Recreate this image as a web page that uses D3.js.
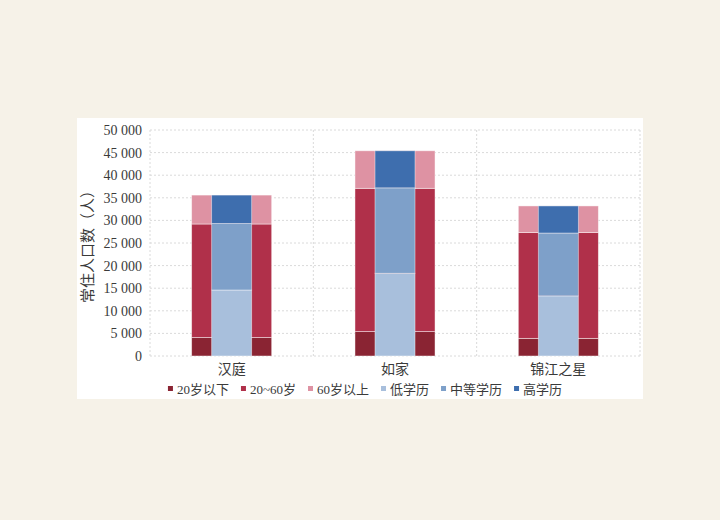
<!DOCTYPE html>
<html><head><meta charset="utf-8">
<script src="https://cdn.jsdelivr.net/npm/d3@7"></script>
<style>body{margin:0;background:#f6f2e8;}svg{display:block;}</style>
</head><body>
<svg id="c" width="720" height="520"></svg>
<script>
const categories = ["汉庭", "如家", "锦江之星"];
const ageSeries = ["20岁以下", "20~60岁", "60岁以上"];
const eduSeries = ["低学历", "中等学历", "高学历"];
const under20 = [4100, 5400, 3900];
const age20to60 = [25100, 31700, 23400];
const over60 = [6400, 8300, 5900];
const lowEdu = [14600, 18300, 13300];
const midEdu = [14700, 18900, 13900];
const highEdu = [6300, 8200, 6000];
const yTicks = [0, 5000, 10000, 15000, 20000, 25000, 30000, 35000, 40000, 45000, 50000];
const ageColors = ["#8a2433", "#b0304a", "#de92a3"];
const eduColors = ["#a8bfdc", "#7ea0c9", "#3e6eae"];

const svg = d3.select("#c");
svg.append("rect").attr("width", 720).attr("height", 520).attr("fill", "#f6f2e8");
svg.append("rect").attr("x", 77).attr("y", 118).attr("width", 566).attr("height", 281).attr("fill", "#ffffff");

const x = d3.scaleBand().domain(categories).range([150, 640]).padding(0);
const y = d3.scaleLinear().domain([0, 50000]).range([356, 130]);
const serif = "'Liberation Serif','Noto Sans CJK SC',serif";
const textColor = "#3a3a3a";

// gridlines
const g = svg.append("g");
g.selectAll("line.h").data(yTicks).enter().append("line")
  .attr("x1", 150).attr("x2", 640)
  .attr("y1", d => y(d)).attr("y2", d => y(d))
  .attr("stroke", "#dadada").attr("stroke-width", 1).attr("stroke-dasharray", "2,2");
const vlines = categories.map(c => x(c)).concat([x.range()[1]]);
g.selectAll("line.v").data(vlines).enter().append("line")
  .attr("x1", d => d).attr("x2", d => d)
  .attr("y1", y(50000)).attr("y2", y(0))
  .attr("stroke", "#dadada").attr("stroke-width", 1).attr("stroke-dasharray", "2,2");

// y axis
const yAxis = d3.axisLeft(y).tickValues(yTicks).tickSize(0).tickPadding(8)
  .tickFormat(d => d3.format(",")(d).replace(/,/g, " "));
const ya = svg.append("g").attr("transform", "translate(150,0)").call(yAxis);
ya.select(".domain").remove();
ya.selectAll("text").attr("font-family", serif).attr("font-size", 14).attr("fill", textColor);

// x axis
const xAxis = d3.axisBottom(x).tickSize(0).tickPadding(8);
const xa = svg.append("g").attr("transform", `translate(0,${y(0)})`).call(xAxis);
xa.select(".domain").remove();
xa.selectAll("text").attr("font-family", serif).attr("font-size", 14).attr("fill", textColor);

// stacked data
const ageRows = categories.map((c, i) => ({cat: c, s0: under20[i], s1: age20to60[i], s2: over60[i]}));
const eduRows = categories.map((c, i) => ({cat: c, s0: lowEdu[i], s1: midEdu[i], s2: highEdu[i]}));
const stack = d3.stack().keys(["s0", "s1", "s2"]);
const ageStack = stack(ageRows);
const eduStack = stack(eduRows);
const wideW = x.bandwidth() * 0.49;
const narrowW = x.bandwidth() * 0.245;

function drawStack(st, colors, w) {
  st.forEach((layer, k) => {
    svg.append("g").selectAll("rect").data(layer).enter().append("rect")
      .attr("x", d => x(d.data.cat) + x.bandwidth() / 2 - w / 2)
      .attr("width", w)
      .attr("y", d => y(d[1]))
      .attr("height", d => y(d[0]) - y(d[1]))
      .attr("fill", colors[k])
      .attr("stroke", "rgba(255,255,255,0.55)").attr("stroke-width", 0.8);
  });
}
drawStack(ageStack, ageColors, wideW);
drawStack(eduStack, eduColors, narrowW);

// y title
svg.append("text")
  .attr("transform", "translate(93,243) rotate(-90)")
  .attr("text-anchor", "middle")
  .attr("font-family", serif).attr("font-size", 15).attr("fill", textColor)
  .text("常住人口数（人）");

// legend
const legendItems = ageSeries.map((n, i) => ({name: n, color: ageColors[i]}))
  .concat(eduSeries.map((n, i) => ({name: n, color: eduColors[i]})));
const lg = svg.append("g");
let cx = 0;
legendItems.forEach(it => {
  const gi = lg.append("g").attr("transform", `translate(${cx},0)`);
  gi.append("rect").attr("x", 0).attr("y", -3).attr("width", 5).attr("height", 5).attr("fill", it.color);
  const t = gi.append("text").attr("x", 9).attr("y", 0).attr("dy", "0.35em")
    .attr("font-family", serif).attr("font-size", 13).attr("fill", textColor).text(it.name);
  cx += 9 + t.node().getComputedTextLength() + 12;
});
const totalW = cx - 12;
lg.attr("transform", `translate(${365 - totalW / 2},389)`);
</script>
</body></html>
